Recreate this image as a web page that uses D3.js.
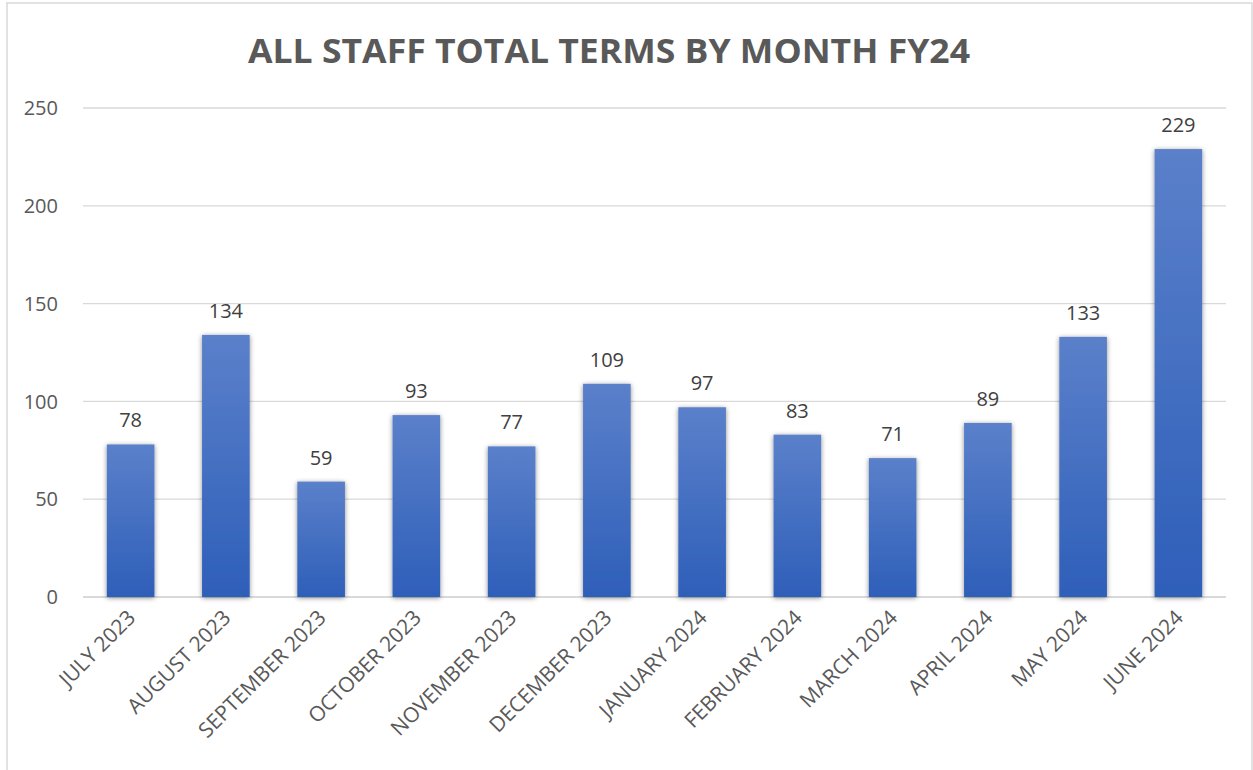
<!DOCTYPE html>
<html>
<head>
<meta charset="utf-8">
<script src="https://cdn.jsdelivr.net/npm/d3@7"></script>
<style>
  body { margin: 0; background: #fff; }
  svg { display: block; font-family: "Open Sans", "Noto Sans", sans-serif; }
</style>
</head>
<body>
<div id="chart"></div>
<script>
// data
const months = ['JULY 2023', 'AUGUST 2023', 'SEPTEMBER 2023', 'OCTOBER 2023', 'NOVEMBER 2023',
  'DECEMBER 2023', 'JANUARY 2024', 'FEBRUARY 2024', 'MARCH 2024', 'APRIL 2024', 'MAY 2024', 'JUNE 2024'];
const terms = [78, 134, 59, 93, 77, 109, 97, 83, 71, 89, 133, 229];
const yTicks = [0, 50, 100, 150, 200, 250];

const W = 1253, H = 770;
const svg = d3.select('#chart').append('svg')
    .attr('width', W)
    .attr('height', H);

// outer chart frame
svg.append('rect')
  .attr('x', 7).attr('y', 3)
  .attr('width', W - 8).attr('height', H + 10)
  .attr('fill', '#fff')
  .attr('stroke', '#d9d9d9')
  .attr('stroke-width', 1.5);

const defs = svg.append('defs');
const grad = defs.append('linearGradient')
  .attr('id', 'barGrad')
  .attr('x1', 0).attr('y1', 0).attr('x2', 0).attr('y2', 1);
grad.append('stop').attr('offset', '0%').attr('stop-color', '#5b80ca');
grad.append('stop').attr('offset', '100%').attr('stop-color', '#2e5fb9');

const shadow = defs.append('filter')
  .attr('id', 'shadow')
  .attr('x', '-30%').attr('y', '-10%')
  .attr('width', '160%').attr('height', '120%');
shadow.append('feDropShadow')
  .attr('dx', 0).attr('dy', 1)
  .attr('stdDeviation', 2.5)
  .attr('flood-color', '#000')
  .attr('flood-opacity', 0.45);

const x = d3.scaleBand()
  .domain(months)
  .range([83, 1226])
  .paddingInner(0.5)
  .paddingOuter(0.25);

const y = d3.scaleLinear()
  .domain([0, 250])
  .range([597, 108]);

// title
svg.append('text')
  .attr('x', 609)
  .attr('y', 63)
  .attr('text-anchor', 'middle')
  .attr('font-size', 34)
  .attr('font-weight', 'bold')
  .attr('fill', '#595959')
  .attr('textLength', 722)
  .attr('lengthAdjust', 'spacingAndGlyphs')
  .text('ALL STAFF TOTAL TERMS BY MONTH FY24');

// gridlines
svg.append('g')
  .selectAll('line')
  .data(yTicks)
  .join('line')
    .attr('x1', 83).attr('x2', 1226)
    .attr('y1', d => y(d)).attr('y2', d => y(d))
    .attr('stroke', '#d9d9d9')
    .attr('stroke-width', d => d === 0 ? 2 : 1.3);

// y labels
svg.append('g')
  .selectAll('text')
  .data(yTicks)
  .join('text')
    .attr('x', 58)
    .attr('y', d => y(d))
    .attr('dy', '0.36em')
    .attr('text-anchor', 'end')
    .attr('font-size', 20)
    .attr('fill', '#595959')
    .text(d => d);

// bars
svg.append('g')
  .selectAll('rect')
  .data(terms)
  .join('rect')
    .attr('x', (d, i) => x(months[i]))
    .attr('y', d => y(d))
    .attr('width', x.bandwidth())
    .attr('height', d => y(0) - y(d))
    .attr('fill', 'url(#barGrad)')
    .attr('filter', 'url(#shadow)');

// value labels
svg.append('g')
  .selectAll('text')
  .data(terms)
  .join('text')
    .attr('x', (d, i) => x(months[i]) + x.bandwidth() / 2)
    .attr('y', d => y(d) - 17)
    .attr('text-anchor', 'middle')
    .attr('font-size', 20)
    .attr('fill', '#404040')
    .text(d => d);

// x labels, rotated
svg.append('g')
  .selectAll('text')
  .data(months)
  .join('text')
    .attr('transform', d => `translate(${x(d) + x.bandwidth() / 2 + 6},${619}) rotate(-45)`)
    .attr('text-anchor', 'end')
    .attr('font-size', 21)
    .attr('fill', '#595959')
    .text(d => d);
</script>
</body>
</html>
